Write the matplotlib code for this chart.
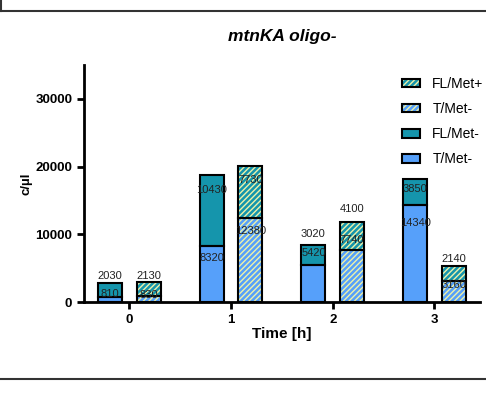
import matplotlib.pyplot as plt
from matplotlib.lines import Line2D
from matplotlib.patches import Patch
from matplotlib.legend_handler import HandlerTuple
import numpy as np

plt.rcParams['font.family'] = ['Liberation Sans', 'DejaVu Sans']
plt.rcParams['hatch.linewidth'] = 1.0

times = [0, 1, 2, 3]
# left bars (Met-)
t_met_minus = [810, 8320, 5420, 14340]
fl_met_minus = [2030, 10430, 3020, 3850]
# right bars (Met+), hatched
t_met_plus = [830, 12380, 7740, 3160]
fl_met_plus = [2130, 7730, 4100, 2140]

legend_labels = ['FL/Met+', 'T/Met-', 'FL/Met-', 'T/Met-']

# where the value labels sit, in points relative to the segment top
lab_off_left_bottom = [2, -9, 9, -13]
lab_off_left_top = [5, -11, 8, -7]
lab_off_right_bottom = [1, -9, 7, -3]
lab_off_right_top = [4, -10, 9, 5]

blue = '#56A0FA'
teal = '#1595AC'
stripe = '#EEF2A8'
HATCH = '//////'

fig = plt.figure(figsize=(4.86, 3.95), dpi=100)
ax = fig.add_axes([0.173, 0.2354, 0.815, 0.600])

x = np.array(times, dtype=float)
w = 0.235
off = 0.19


def draw_stack(xs, bottom_vals, top_vals, hatched, off_b, off_t):
    bottom_vals = np.array(bottom_vals)
    top_vals = np.array(top_vals)
    if hatched:
        ax.bar(xs, bottom_vals, w, color=blue, edgecolor=stripe, hatch=HATCH, linewidth=0, zorder=2)
        ax.bar(xs, top_vals, w, bottom=bottom_vals, color=teal, edgecolor=stripe, hatch=HATCH, linewidth=0, zorder=2)
    else:
        ax.bar(xs, bottom_vals, w, color=blue, linewidth=0, zorder=2)
        ax.bar(xs, top_vals, w, bottom=bottom_vals, color=teal, linewidth=0, zorder=2)
    # black outlines
    ax.bar(xs, bottom_vals, w, fill=False, edgecolor='black', linewidth=1.5, zorder=3)
    ax.bar(xs, top_vals, w, bottom=bottom_vals, fill=False, edgecolor='black', linewidth=1.5, zorder=3)
    # value labels
    for xi, b, t, ob, ot in zip(xs, bottom_vals, top_vals, off_b, off_t):
        ax.annotate(str(b), (xi, b), xytext=(0, ob), textcoords='offset points',
                    ha='center', va='center', fontsize=8, color='#222222', zorder=4)
        ax.annotate(str(t), (xi, b + t), xytext=(0, ot), textcoords='offset points',
                    ha='center', va='center', fontsize=8, color='#222222', zorder=4)


draw_stack(x - off, t_met_minus, fl_met_minus, False, lab_off_left_bottom, lab_off_left_top)
draw_stack(x + off, t_met_plus, fl_met_plus, True, lab_off_right_bottom, lab_off_right_top)

ax.set_xlim(-0.446, 3.45)
ax.set_ylim(0, 35000)
ax.set_xticks(times)
ax.set_xticklabels([str(t) for t in times], fontweight='bold', fontsize=9.5)
ax.set_yticks([0, 10000, 20000, 30000])
ax.set_yticklabels(['0', '10000', '20000', '30000'], fontweight='bold', fontsize=9.5)
ax.tick_params(axis='both', width=2, length=5, color='black')
for side in ['top', 'right']:
    ax.spines[side].set_visible(False)
for side in ['left', 'bottom']:
    ax.spines[side].set_linewidth(2)

ax.set_xlabel('Time [h]', fontweight='bold', fontsize=11, labelpad=1)
ax.set_ylabel('c/µl', fontweight='bold', fontsize=9.5, labelpad=2)
ax.set_title('mtnKA oligo-', fontweight='bold', fontstyle='italic', fontsize=12.5, pad=17)

handles = [
    (Patch(facecolor=teal, edgecolor=stripe, hatch=HATCH, linewidth=0),
     Patch(fill=False, edgecolor='black', linewidth=1.5)),
    (Patch(facecolor=blue, edgecolor=stripe, hatch=HATCH, linewidth=0),
     Patch(fill=False, edgecolor='black', linewidth=1.5)),
    Patch(facecolor=teal, edgecolor='black', linewidth=1.5),
    Patch(facecolor=blue, edgecolor='black', linewidth=1.5),
]
leg = ax.legend(handles, legend_labels, loc='upper right', bbox_to_anchor=(1.04, 1.003),
                frameon=False, fontsize=10, handlelength=1.3, handleheight=0.6,
                labelspacing=0.8, handletextpad=0.85,
                handler_map={tuple: HandlerTuple(ndivide=1, pad=0)})

# frame lines of the surrounding page
fig.add_artist(Line2D([0, 1], [1 - 11 / 395, 1 - 11 / 395], color='#333333', linewidth=1.5))
fig.add_artist(Line2D([0.002, 0.002], [1 - 11 / 395, 1], color='#333333', linewidth=1.5))
fig.add_artist(Line2D([0, 1], [1 - 379 / 395, 1 - 379 / 395], color='#333333', linewidth=1.5))

fig.savefig('out.png', dpi=100)
